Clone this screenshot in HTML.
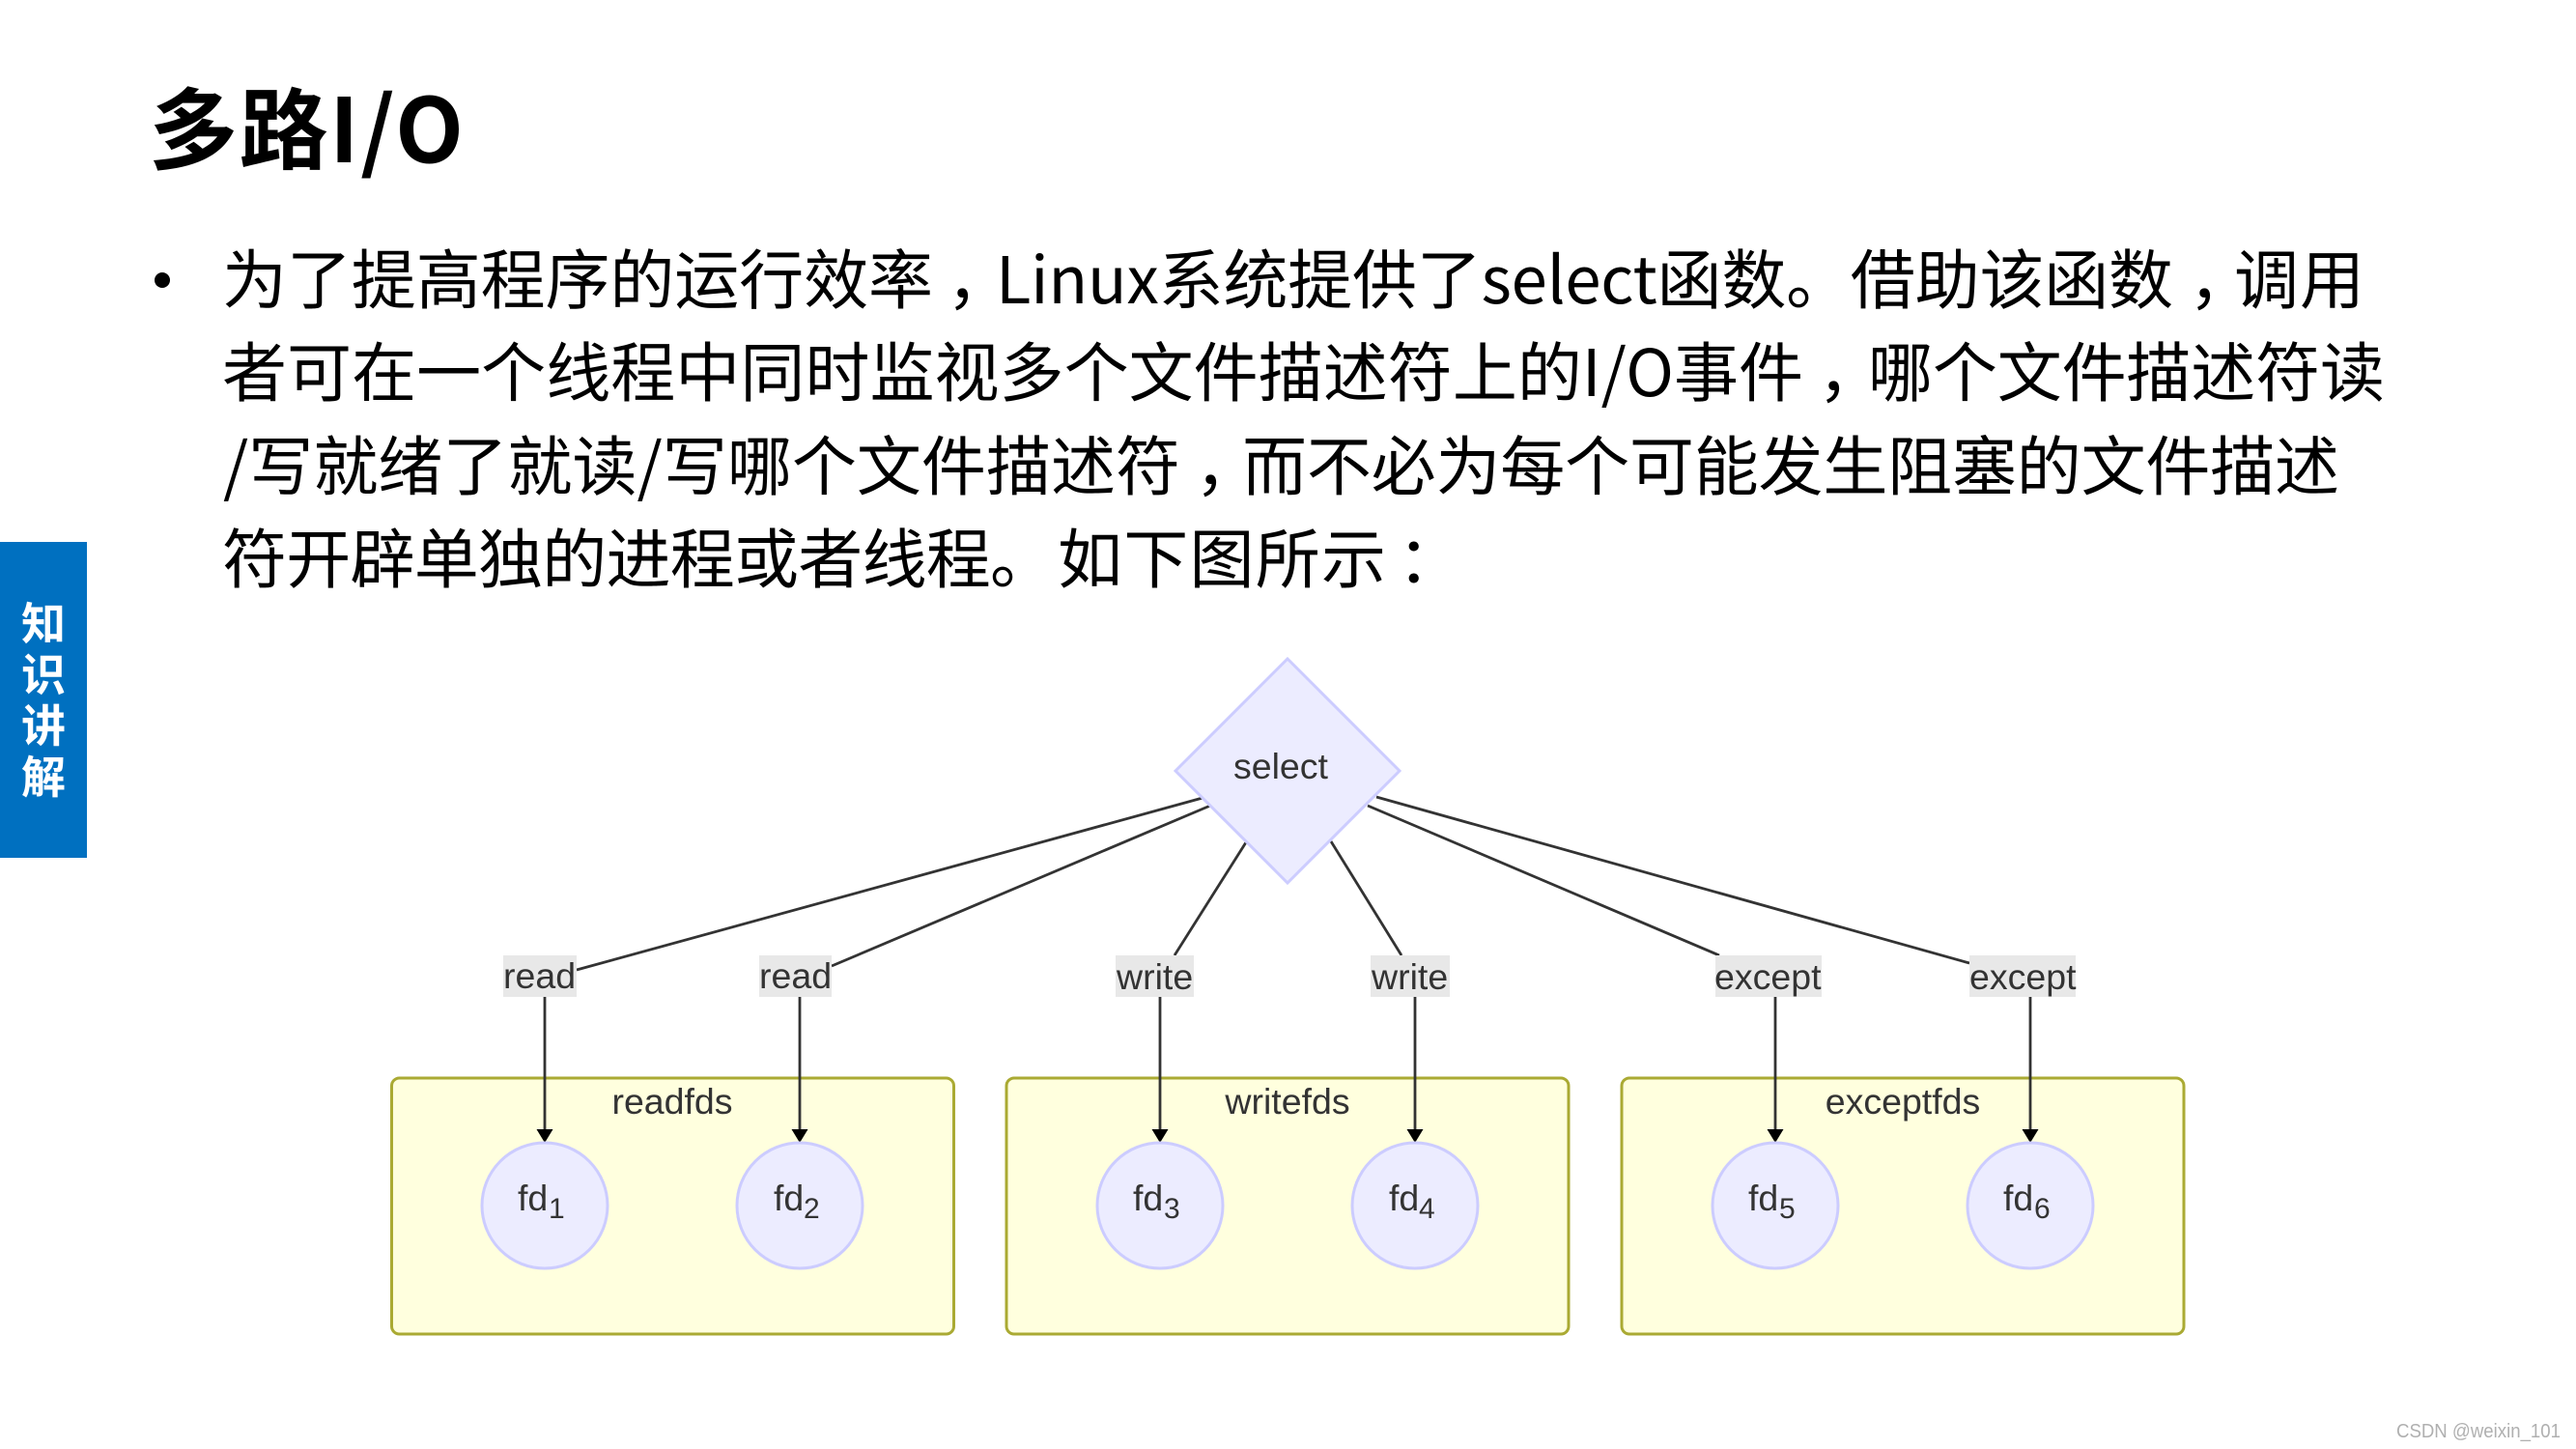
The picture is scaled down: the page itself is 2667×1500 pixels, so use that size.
<!DOCTYPE html>
<html lang="zh">
<head>
<meta charset="utf-8">
<title>多路I/O</title>
<style>
html,body{margin:0;padding:0;background:#fff;width:2667px;height:1500px;overflow:hidden}
svg{display:block}
.cjk{font-family:"Noto Sans CJK SC","Liberation Sans",sans-serif;fill:#000}
.d{font-family:"Liberation Sans",Arial,sans-serif;font-size:37.5px;fill:#333}
.lbl{fill:#e8e8e8}
.e{stroke:#333;stroke-width:2.8;fill:none}
.c{fill:#ececff;stroke:#ccccff;stroke-width:3}
.cl{fill:#ffffde;stroke:#aaaa33;stroke-width:3}
.a{fill:#000}
.sub{font-size:30px}
</style>
</head>
<body>
<svg width="2667" height="1500" viewBox="0 0 2667 1500" xmlns="http://www.w3.org/2000/svg">
<rect width="2667" height="1500" fill="#fff"/>

<!-- Title -->
<text class="cjk" x="154" y="168" font-size="92" font-weight="700" textLength="326" lengthAdjust="spacing">多路I/O</text>

<!-- Body -->
<circle cx="168" cy="290" r="8" fill="#000"/>
<g class="cjk" font-size="67">
<text x="230" y="314" textLength="736" lengthAdjust="spacing">为了提高程序的运行效率</text>
<text x="980" y="314">，</text>
<text x="1031" y="314" textLength="1219" lengthAdjust="spacing">Linux系统提供了select函数。借助该函数</text>
<text x="2266" y="314">，</text>
<text x="2313" y="314" textLength="135" lengthAdjust="spacing">调用</text>

<text x="230" y="410" textLength="1637" lengthAdjust="spacing">者可在一个线程中同时监视多个文件描述符上的I/O事件</text>
<text x="1882" y="410">，</text>
<text x="1934" y="410" textLength="535" lengthAdjust="spacing">哪个文件描述符读</text>

<text x="231" y="507" textLength="991" lengthAdjust="spacing">/写就绪了就读/写哪个文件描述符</text>
<text x="1237" y="507">，</text>
<text x="1286" y="507" textLength="1136" lengthAdjust="spacing">而不必为每个可能发生阻塞的文件描述</text>

<text x="230" y="603" textLength="862" lengthAdjust="spacing">符开辟单独的进程或者线程。</text>
<text x="1095" y="603" textLength="340" lengthAdjust="spacing">如下图所示</text>
<text x="1447" y="603">：</text>
</g>

<!-- Side tab -->
<rect x="0" y="561" width="90" height="327" fill="#0070c0"/>
<g class="cjk" font-size="46" font-weight="700" text-anchor="middle">
<text x="45" y="662" style="fill:#fff">知</text>
<text x="45" y="715" style="fill:#fff">识</text>
<text x="45" y="768" style="fill:#fff">讲</text>
<text x="45" y="821" style="fill:#fff">解</text>
</g>

<!-- Clusters -->
<rect class="cl" x="405.5" y="1116" width="582" height="265" rx="8" ry="8"/>
<rect class="cl" x="1042" y="1116" width="582" height="265" rx="8" ry="8"/>
<rect class="cl" x="1679" y="1116" width="582" height="265" rx="8" ry="8"/>
<g class="d" text-anchor="middle">
<text x="696" y="1153">readfds</text>
<text x="1333" y="1153">writefds</text>
<text x="1970" y="1153">exceptfds</text>
</g>

<!-- Diagonal edges -->
<line class="e" x1="1245" y1="826" x2="597" y2="1004"/>
<line class="e" x1="1253" y1="834" x2="861" y2="1000"/>
<line class="e" x1="1290" y1="872" x2="1216" y2="989"/>
<line class="e" x1="1378" y1="871" x2="1451" y2="989"/>
<line class="e" x1="1416" y1="834" x2="1780" y2="989"/>
<line class="e" x1="1425" y1="825" x2="2039" y2="997"/>

<!-- Vertical edges -->
<line class="e" x1="564" y1="1032" x2="564" y2="1172"/>
<line class="e" x1="828" y1="1032" x2="828" y2="1172"/>
<line class="e" x1="1201" y1="1032" x2="1201" y2="1172"/>
<line class="e" x1="1465" y1="1032" x2="1465" y2="1172"/>
<line class="e" x1="1838" y1="1032" x2="1838" y2="1172"/>
<line class="e" x1="2102" y1="1032" x2="2102" y2="1172"/>
<polygon class="a" points="555.5,1169 572.5,1169 564,1183"/>
<polygon class="a" points="819.5,1169 836.5,1169 828,1183"/>
<polygon class="a" points="1192.5,1169 1209.5,1169 1201,1183"/>
<polygon class="a" points="1456.5,1169 1473.5,1169 1465,1183"/>
<polygon class="a" points="1829.5,1169 1846.5,1169 1838,1183"/>
<polygon class="a" points="2093.5,1169 2110.5,1169 2102,1183"/>

<!-- Diamond -->
<polygon class="c" points="1333,682 1449,798 1333,914 1217,798"/>
<text class="d" x="1277" y="806">select</text>

<!-- Edge labels -->
<rect class="lbl" x="521" y="989" width="76" height="43"/>
<rect class="lbl" x="786" y="989" width="75" height="43"/>
<rect class="lbl" x="1155" y="989" width="81" height="43"/>
<rect class="lbl" x="1419" y="989" width="82" height="43"/>
<rect class="lbl" x="1776" y="989" width="110" height="43"/>
<rect class="lbl" x="2039" y="989" width="110" height="43"/>
<g class="d">
<text x="521" y="1023">read</text>
<text x="786" y="1023">read</text>
<text x="1156" y="1024">write</text>
<text x="1420" y="1024">write</text>
<text x="1775" y="1024">except</text>
<text x="2039" y="1024">except</text>
</g>

<!-- fd circles -->
<circle class="c" cx="564" cy="1248" r="65"/>
<circle class="c" cx="828" cy="1248" r="65"/>
<circle class="c" cx="1201" cy="1248" r="65"/>
<circle class="c" cx="1465" cy="1248" r="65"/>
<circle class="c" cx="1838" cy="1248" r="65"/>
<circle class="c" cx="2102" cy="1248" r="65"/>
<g class="d">
<text x="536" y="1253">fd</text><text class="sub" x="568" y="1261">1</text>
<text x="801" y="1253">fd</text><text class="sub" x="832" y="1261">2</text>
<text x="1173" y="1253">fd</text><text class="sub" x="1205" y="1261">3</text>
<text x="1438" y="1253">fd</text><text class="sub" x="1469" y="1261">4</text>
<text x="1810" y="1253">fd</text><text class="sub" x="1842" y="1261">5</text>
<text x="2074" y="1253">fd</text><text class="sub" x="2106" y="1261">6</text>
</g>

<!-- Watermark -->
<text x="2481" y="1488" font-family="'Liberation Sans',Arial,sans-serif" font-size="20" fill="#b0b0b0" textLength="170" lengthAdjust="spacingAndGlyphs">CSDN @weixin_101</text>
</svg>
</body>
</html>
